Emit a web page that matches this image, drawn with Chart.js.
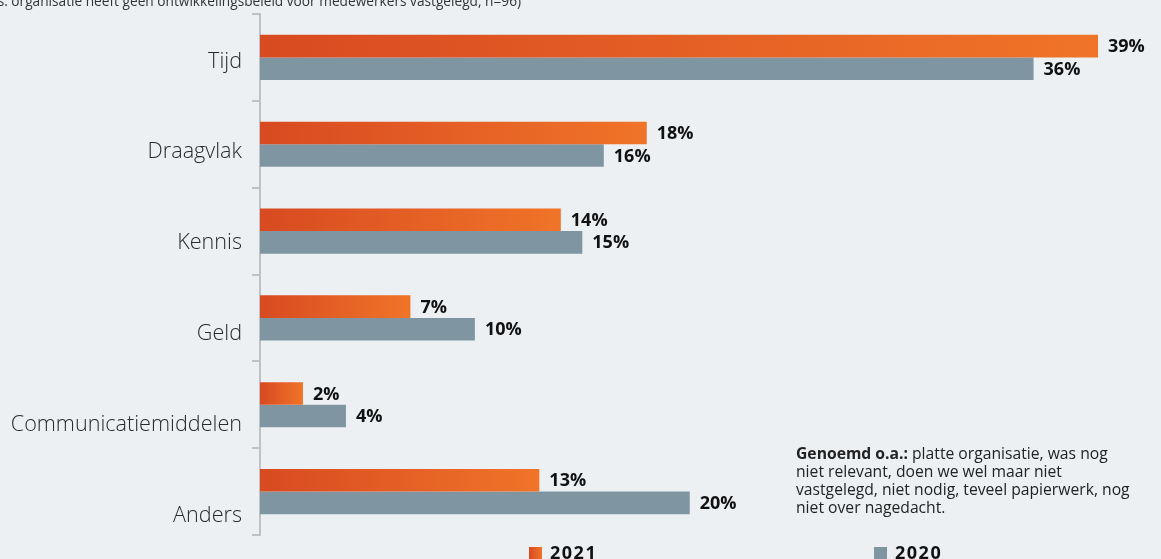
<!DOCTYPE html>
<html>
<head>
<meta charset="utf-8">
<script src="https://cdn.jsdelivr.net/npm/chart.js@4"></script>
<style>
  html, body { margin: 0; padding: 0; background: #ecf0f3; overflow: hidden; }
  #wrap { position: relative; width: 1161px; height: 559px; }
  #note-top {
    position: absolute; right: 640px; top: -9px; white-space: nowrap;
    font: 13.7px "Open Sans", sans-serif; color: #333;
  }
  #note {
    position: absolute; left: 796px; top: 444px;
    font: 15.7px/18px "Open Sans", sans-serif; color: #222;
  }
  #note b { font-weight: 700; }
  .legend-item {
    position: absolute; top: 540px; font: 700 18px "Open Sans", sans-serif; color: #111;
    letter-spacing: 1.5px;
  }
  .legend-item span {
    display: inline-block; width: 13px; height: 13px; margin-right: 8px; vertical-align: -1px;
  }
</style>
</head>
<body>
<div id="wrap">
  <canvas id="bars"></canvas>
  <div id="note-top">(basis: organisatie heeft geen ontwikkelingsbeleid voor medewerkers vastgelegd, n=96)</div>
  <div id="note"><b>Genoemd o.a.:</b> platte organisatie, was nog<br>niet relevant, doen we wel maar niet<br>vastgelegd, niet nodig, teveel papierwerk, nog<br>niet over nagedacht.</div>
  <div class="legend-item" style="left:529px"><span style="background:linear-gradient(90deg,#d84a21,#f07428)"></span>2021</div>
  <div class="legend-item" style="left:874px"><span style="background:#7f96a2"></span>2020</div>
</div>
<script>
const categories = ["Tijd", "Draagvlak", "Kennis", "Geld", "Communicatiemiddelen", "Anders"];
const values2021 = [39, 18, 14, 7, 2, 13];
const values2020 = [36, 16, 15, 10, 4, 20];

// orange fill that runs from dark to light over the length of each bar
function orangeFill(ctx) {
  const chart = ctx.chart;
  const x = chart.scales.x;
  if (!x || ctx.raw == null) return "#e35a24";
  const x0 = x.getPixelForValue(0);
  const x1 = x.getPixelForValue(ctx.raw);
  if (!isFinite(x0) || !isFinite(x1) || x1 <= x0) return "#e35a24";
  const g = chart.ctx.createLinearGradient(x0, 0, x1, 0);
  g.addColorStop(0, "#d84a21");
  g.addColorStop(1, "#f07428");
  return g;
}

const valueLabels = {
  id: "valueLabels",
  afterDatasetsDraw(chart) {
    const c = chart.ctx;
    c.save();
    c.font = "700 18px 'Open Sans', sans-serif";
    c.fillStyle = "#111";
    c.textBaseline = "middle";
    c.textAlign = "left";
    chart.data.datasets.forEach((ds, i) => {
      chart.getDatasetMeta(i).data.forEach((bar, j) => {
        c.fillText(ds.data[j] + "%", bar.x + 10, bar.y + 1);
      });
    });
    c.restore();
  }
};

new Chart(document.getElementById("bars"), {
  type: "bar",
  data: {
    labels: categories,
    datasets: [
      { label: "2021", data: values2021, backgroundColor: orangeFill },
      { label: "2020", data: values2020, backgroundColor: "#7f96a2" }
    ]
  },
  options: {
    indexAxis: "y",
    responsive: true,
    maintainAspectRatio: false,
    animation: false,
    categoryPercentage: 0.52,
    barPercentage: 1.0,
    layout: { padding: { top: 14, bottom: 24, right: 20, left: 0 } },
    plugins: { legend: { display: false }, tooltip: { enabled: false } },
    scales: {
      x: { display: false, min: 0, max: 41 },
      // category axis: only the line and the tick marks between groups
      y: {
        weight: 0,
        afterFit(scale) { scale.width = 10; },
        border: { display: true, color: "#bfc2c5", width: 2 },
        grid: { drawOnChartArea: false, drawTicks: true, tickLength: 8, color: "#bfc2c5", lineWidth: 2 },
        ticks: { display: false }
      },
      // names sit on a slightly looser spacing than the groups
      yNames: {
        type: "linear",
        position: "left",
        weight: 1,
        reverse: true,
        offset: false,
        min: -0.524,
        max: 5.216,
        afterFit(scale) {
          scale.width = 250;
          scale.paddingTop = 0;
          scale.paddingBottom = 0;
        },
        afterBuildTicks(scale) { scale.ticks = categories.map((_, i) => ({ value: i })); },
        border: { display: false },
        grid: { display: false },
        ticks: {
          padding: 0,
          color: "#2a2a2a",
          font: { family: "'Open Sans', sans-serif", size: 21.6, weight: 300 },
          callback: (v) => categories[v]
        }
      }
    }
  },
  plugins: [valueLabels]
});
</script>
</body>
</html>
